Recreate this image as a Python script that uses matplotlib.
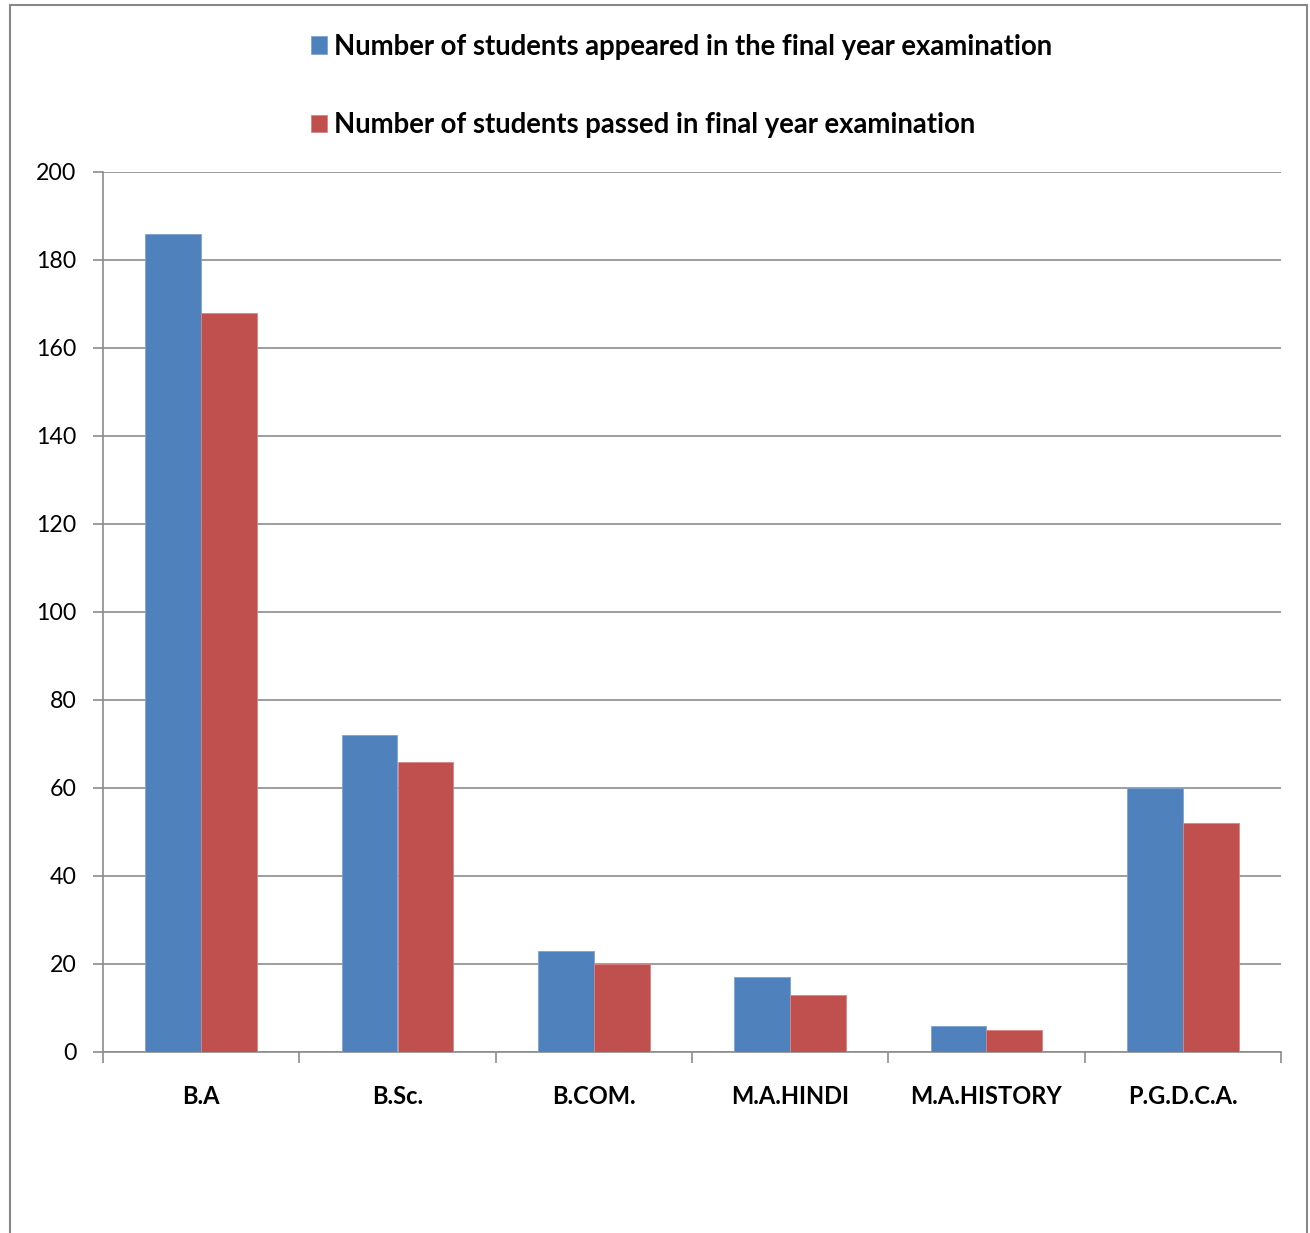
import numpy as np
import matplotlib.pyplot as plt
from matplotlib.patches import Rectangle

plt.rcParams['font.family'] = ['Lato', 'DejaVu Sans']

courses = ["B.A", "B.Sc.", "B.COM.", "M.A.HINDI", "M.A.HISTORY", "P.G.D.C.A."]
appeared = [186, 72, 23, 17, 6, 60]
passed = [168, 66, 20, 13, 5, 52]
labels = ["Number of students appeared in the final year examination",
          "Number of students passed in final year examination"]

blue = "#4f81bd"
red = "#c0504d"

fig = plt.figure(figsize=(13.1, 12.33), dpi=100)
ax = fig.add_axes([103 / 1310, 1 - 1052 / 1233, 1178 / 1310, 880 / 1233])

# outer chart frame
fig.patches.append(Rectangle((10 / 1310, -0.01), 1297 / 1310, 1 - 5 / 1233 + 0.01,
                             transform=fig.transFigure, fill=False,
                             edgecolor="#888888", linewidth=1.5))

x = np.arange(len(courses))
w = 0.285
b1 = ax.bar(x - w / 2, appeared, w, color=blue, edgecolor="#7fa3d0", linewidth=0.6, zorder=3)
b2 = ax.bar(x + w / 2, passed, w, color=red, edgecolor="#d98583", linewidth=0.6, zorder=3)

ax.set_xlim(-0.5, len(courses) - 0.5)
ax.set_ylim(0, 200)
ax.set_yticks(range(0, 201, 20))
ax.yaxis.grid(True, color="#8c8c8c", linewidth=1.2, zorder=0)
ax.set_axisbelow(True)

ax.set_xticks(x)
ax.set_xticklabels(courses, fontweight="bold", fontsize=17)
ax.set_xticks(np.arange(-0.5, len(courses), 1), minor=True)
ax.tick_params(axis="x", which="major", length=0, pad=24)
ax.tick_params(axis="x", which="minor", length=8, width=1.2, color="#8c8c8c", direction="out")
ax.tick_params(axis="y", length=7, width=1.2, color="#8c8c8c", labelsize=16.7, pad=12)

for s in ["top", "right"]:
    ax.spines[s].set_visible(False)
for s in ["left", "bottom"]:
    ax.spines[s].set_color("#8c8c8c")
    ax.spines[s].set_linewidth(1.2)

fig.legend([b1, b2], labels, loc="upper left", bbox_to_anchor=(286 / 1310, 1 - 9 / 1233),
           frameon=False, handlelength=0.58, handleheight=0.58, handletextpad=0.25,
           labelspacing=1.9, prop={"weight": "bold", "size": 19.8})

fig.savefig("out.png", dpi=100)
